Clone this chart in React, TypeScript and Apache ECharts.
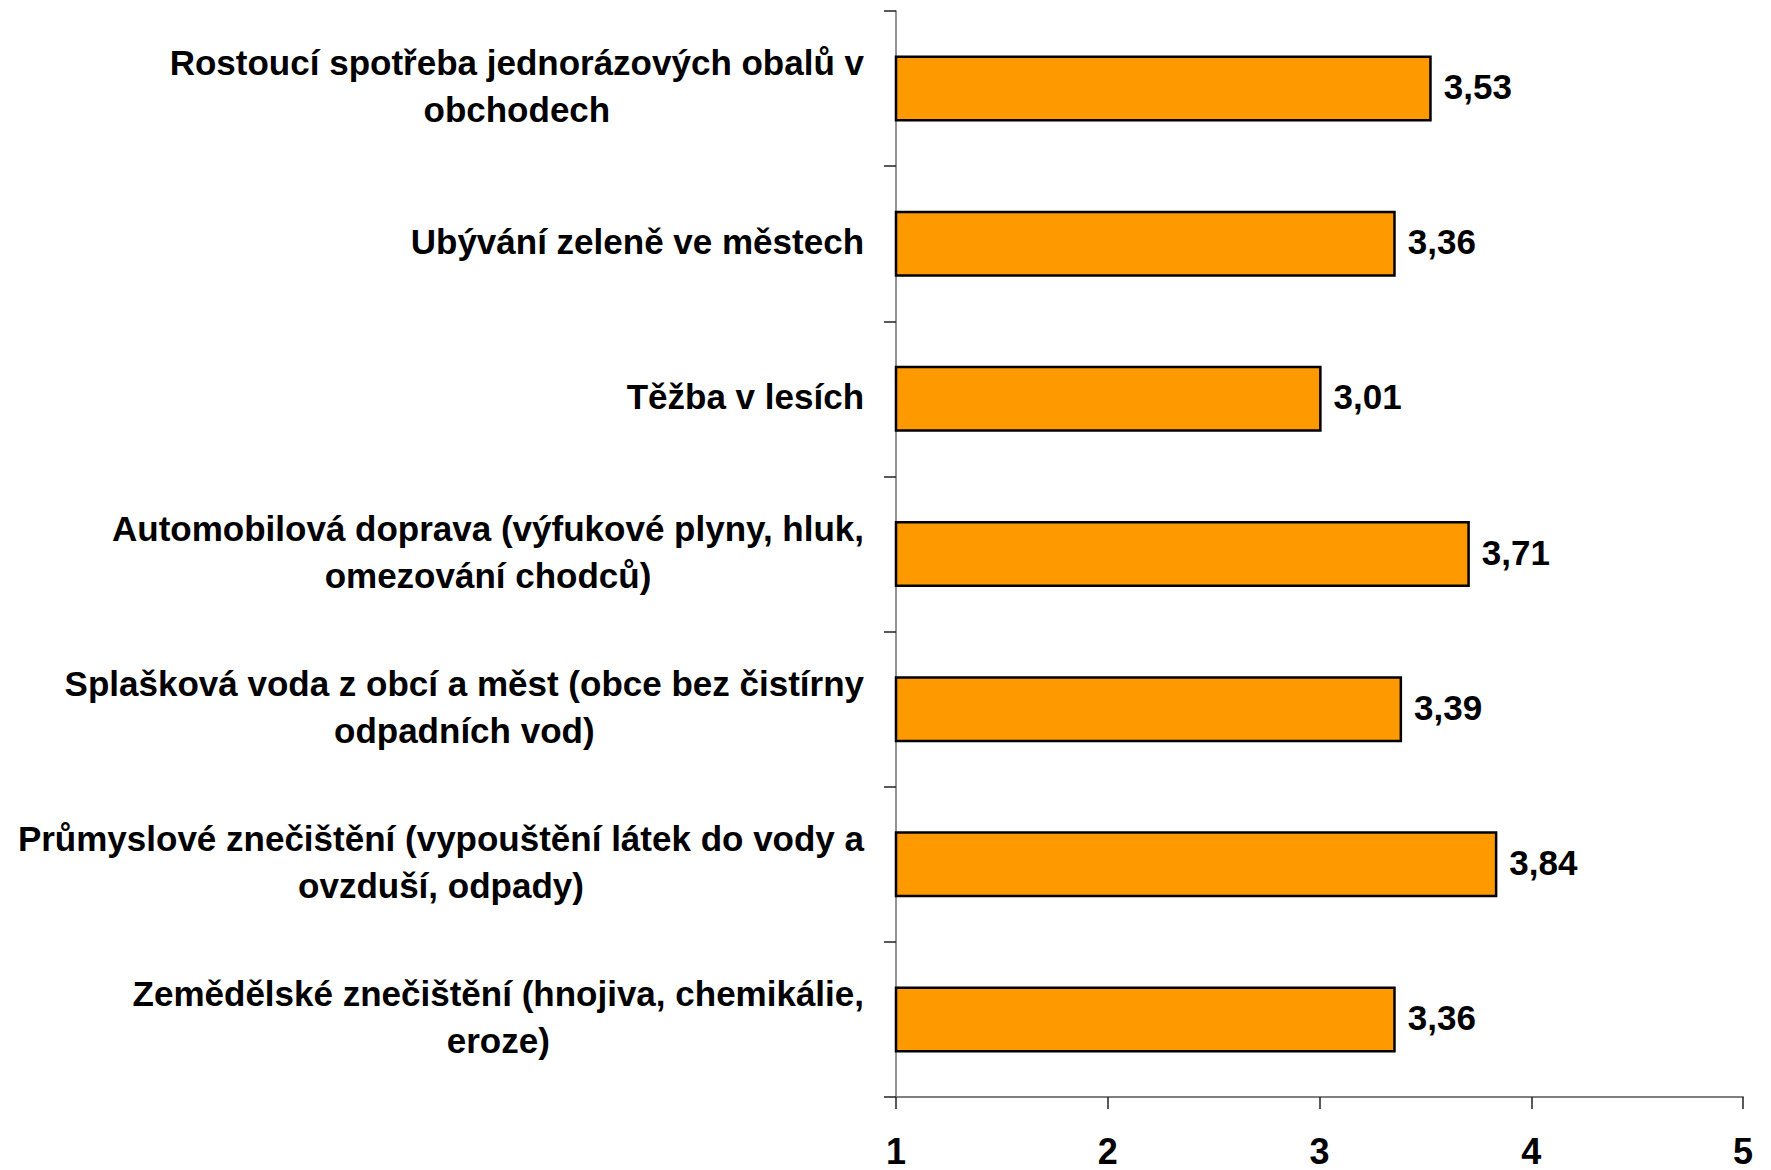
import React, { useEffect, useRef } from "react";
import * as echarts from "echarts";

const categories: string[] = [
  "Rostoucí spotřeba jednorázových obalů v\nobchodech",
  "Ubývání zeleně ve městech",
  "Těžba v lesích",
  "Automobilová doprava (výfukové plyny, hluk,\nomezování chodců)",
  "Splašková voda z obcí a měst (obce bez čistírny\nodpadních vod)",
  "Průmyslové znečištění (vypouštění látek do vody a\novzduší, odpady)",
  "Zemědělské znečištění (hnojiva, chemikálie,\neroze)",
];

const values: number[] = [3.53, 3.36, 3.01, 3.71, 3.39, 3.84, 3.36];

const xTicks = { min: 1, max: 5, interval: 1 };

const FONT = "'Liberation Sans', Arial, Helvetica, sans-serif";

export default function App() {
  const ref = useRef<HTMLDivElement>(null);

  useEffect(() => {
    if (!ref.current) return;
    const chart = echarts.init(ref.current, null, { renderer: "svg" });
    chart.setOption({
      animation: false,
      backgroundColor: "#ffffff",
      grid: { left: 896, right: 28, top: 11, bottom: 73, containLabel: false },
      xAxis: {
        type: "value",
        min: xTicks.min,
        max: xTicks.max,
        interval: xTicks.interval,
        splitLine: { show: false },
        axisLine: { show: true, lineStyle: { color: "#808080", width: 2 } },
        axisTick: { show: true, length: 12, lineStyle: { color: "#222", width: 1.5 } },
        axisLabel: {
          margin: 36,
          fontFamily: FONT,
          fontWeight: "bold",
          fontSize: 36,
          color: "#000",
        },
      },
      yAxis: {
        type: "category",
        inverse: true,
        data: categories,
        axisLine: { show: true, lineStyle: { color: "#707070", width: 1.5 } },
        axisTick: { show: true, length: 12, lineStyle: { color: "#222", width: 1.5 } },
        axisLabel: {
          margin: 32,
          align: "right",
          padding: [0, 0, 5, 0],
          formatter: (v: string) =>
            v
              .split("\n")
              .map((line) => `{a|${line}}`)
              .join("\n"),
          rich: {
            a: {
              align: "center",
              fontFamily: FONT,
              fontWeight: "bold",
              fontSize: 35,
              lineHeight: 47,
              color: "#000",
            },
          },
        },
      },
      series: [
        {
          type: "bar",
          data: values,
          barWidth: 66,
          itemStyle: { color: "#FF9900", borderColor: "#000", borderWidth: 2.5 },
          label: {
            show: true,
            position: "right",
            distance: 12,
            offset: [0, -2],
            fontFamily: FONT,
            fontWeight: "bold",
            fontSize: 35,
            color: "#000",
            formatter: (p: any) => Number(p.value).toFixed(2).replace(".", ","),
          },
        },
      ],
    });
    return () => chart.dispose();
  }, []);

  return (
    <div
      ref={ref}
      style={{ position: "absolute", left: 0, top: 0, width: 1771, height: 1170 }}
    />
  );
}
